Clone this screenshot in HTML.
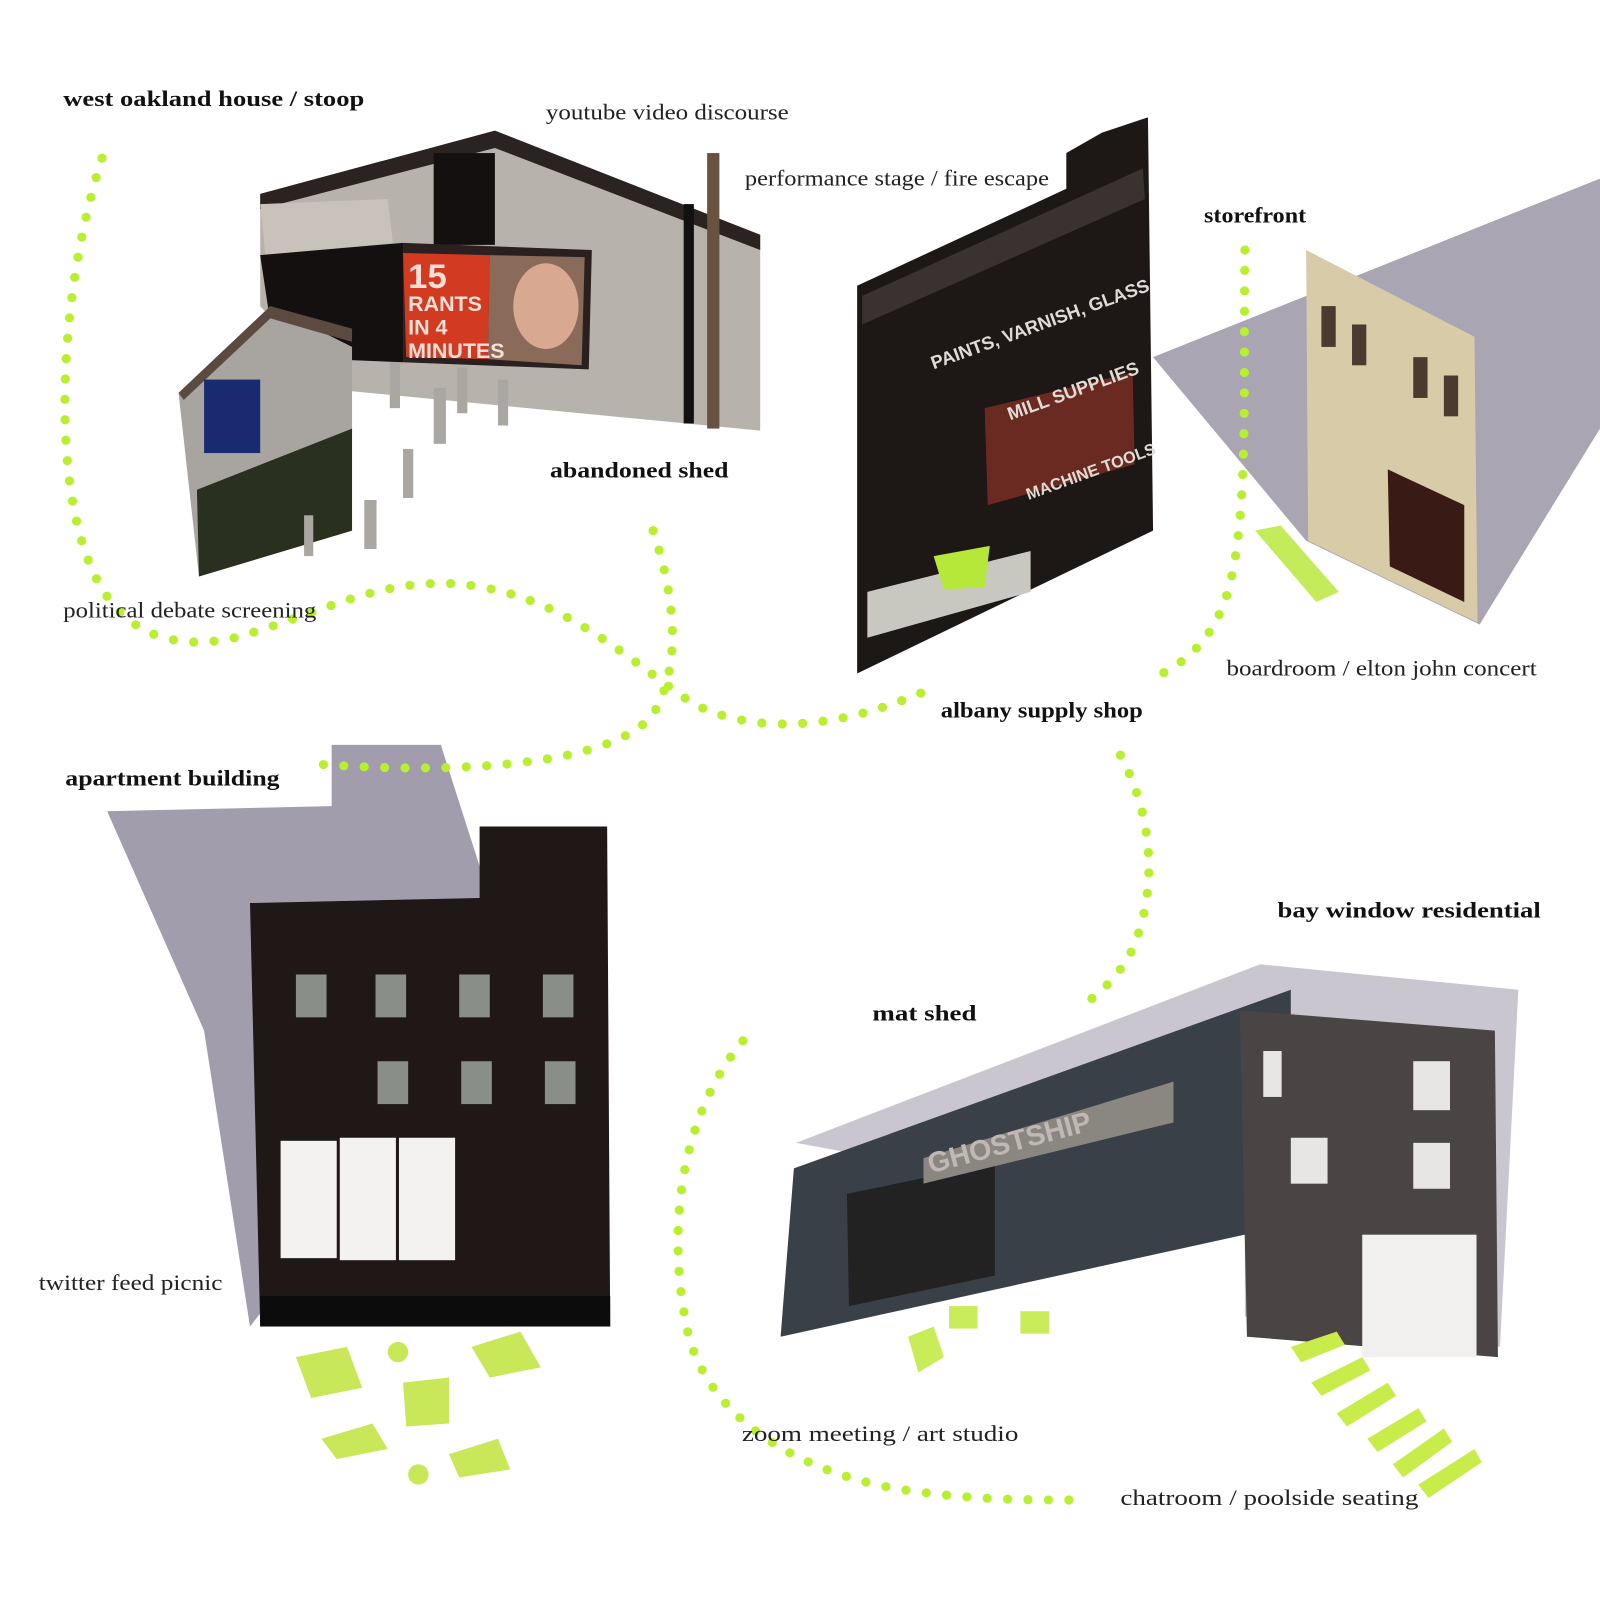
<!DOCTYPE html>
<html><head><meta charset="utf-8"><style>
html,body{margin:0;padding:0;background:#fff;}
svg{display:block}
text{font-family:"Liberation Serif",serif;fill:#222;font-size:22px}
.b{font-weight:bold;fill:#111}
</style></head><body>
<svg width="1600" height="1600" viewBox="0 0 1600 1600" xmlns="http://www.w3.org/2000/svg">
<g transform="scale(1.0204)">
<!-- shadows -->
<polygon points="1130,350 1568,175 1568,420 1450,612 1280,530" fill="#8c8798" opacity="0.75"/>
<polygon points="105,795 325,790 325,730 432,730 480,880 480,1000 245,1300 200,1010" fill="#8a8598" opacity="0.8"/>
<polygon points="780,1120 1235,945 1488,970 1470,1320 1220,1290 1220,1200" fill="#9c98a8" opacity="0.55"/>

<!-- abandoned shed -->
<polygon points="255,190 485,128 745,230 745,422 330,382 255,300" fill="#b8b2ac"/>
<polygon points="255,190 485,128 745,230 745,245 485,145 255,205" fill="#2a2320"/>
<rect x="425" y="150" width="60" height="90" fill="#151010"/>
<polygon points="255,200 380,195 385,238 260,250" fill="#c8c2bb"/>
<polygon points="255,250 395,238 395,355 270,350" fill="#141010"/>
<rect x="670" y="200" width="10" height="215" fill="#111"/>
<rect x="693" y="150" width="12" height="270" fill="#6a5240"/>
<polygon points="395,238 580,245 577,362 395,355" fill="#2a2020"/>
<polygon points="395,248 480,250 478,352 398,350" fill="#d23a22"/>
<polygon points="480,250 573,252 570,358 478,352" fill="#8a6a58"/>
<ellipse cx="535" cy="300" rx="32" ry="42" fill="#d8a890"/>
<text x="400" y="282" style="fill:#f4e0d8;font-family:'Liberation Sans',sans-serif;font-weight:bold;font-size:34px">15</text>
<text x="400" y="305" style="fill:#f4e0d8;font-family:'Liberation Sans',sans-serif;font-weight:bold;font-size:21px">RANTS</text>
<text x="400" y="328" style="fill:#f4e0d8;font-family:'Liberation Sans',sans-serif;font-weight:bold;font-size:21px">IN 4</text>
<text x="400" y="351" style="fill:#f4e0d8;font-family:'Liberation Sans',sans-serif;font-weight:bold;font-size:21px">MINUTES</text>
<!-- house -->
<polygon points="175,385 265,300 345,340 345,520 195,565" fill="#a8a4a0"/>
<polygon points="175,385 265,300 345,322 345,335 265,312 180,392" fill="#5a4a40"/>
<rect x="200" y="372" width="55" height="72" fill="#1a2a70"/>
<polygon points="193,480 345,420 345,520 195,565" fill="#2a3020"/>
<g fill="#aaa6a2"><rect x="382" y="355" width="10" height="45"/><rect x="448" y="360" width="10" height="45"/><rect x="488" y="372" width="10" height="45"/><rect x="425" y="380" width="12" height="55"/><rect x="395" y="440" width="10" height="48"/><rect x="357" y="490" width="12" height="48"/><rect x="298" y="505" width="9" height="40"/></g>

<!-- albany supply shop -->
<polygon points="840,280 1045,185 1045,150 1080,130 1125,115 1130,520 840,660" fill="#1d1716"/>
<polygon points="845,290 1120,165 1122,195 845,318" fill="#3a3230"/>
<polygon points="965,400 1110,365 1112,455 968,495" fill="#6a2a22"/>
<polygon points="850,580 1010,540 1010,580 850,625" fill="#c8c8c0"/>
<polygon points="915,545 970,535 965,575 925,578" fill="#b6e83a"/>
<text x="915" y="362" transform="rotate(-20 915 362)" style="fill:#e0dcd2;font-size:18px;font-family:'Liberation Sans',sans-serif;font-weight:bold">PAINTS, VARNISH, GLASS</text>
<text x="990" y="412" transform="rotate(-20 990 412)" style="fill:#e0dcd2;font-size:18px;font-family:'Liberation Sans',sans-serif;font-weight:bold">MILL SUPPLIES</text>
<text x="1008" y="490" transform="rotate(-20 1008 490)" style="fill:#e0dcd2;font-size:16px;font-family:'Liberation Sans',sans-serif;font-weight:bold">MACHINE TOOLS</text>

<!-- storefront -->
<polygon points="1280,245 1445,330 1448,610 1282,530" fill="#d8cca8"/>
<polygon points="1360,460 1435,495 1435,590 1362,555" fill="#3a1a14"/>
<g fill="#4a3a30"><rect x="1295" y="300" width="14" height="40"/><rect x="1325" y="318" width="14" height="40"/><rect x="1385" y="350" width="14" height="40"/><rect x="1415" y="368" width="14" height="40"/></g>
<polygon points="1230,520 1255,515 1312,580 1290,590" fill="#c4ec5a"/>

<!-- apartment building -->
<polygon points="245,885 470,880 470,810 595,810 598,1300 255,1300" fill="#201816"/>
<g fill="#8a8e88"><rect x="290" y="955" width="30" height="42"/><rect x="368" y="955" width="30" height="42"/><rect x="450" y="955" width="30" height="42"/><rect x="532" y="955" width="30" height="42"/><rect x="370" y="1040" width="30" height="42"/><rect x="452" y="1040" width="30" height="42"/><rect x="534" y="1040" width="30" height="42"/></g>
<g fill="#f4f2f0"><rect x="275" y="1118" width="55" height="115"/><rect x="333" y="1115" width="55" height="120"/><rect x="391" y="1115" width="55" height="120"/></g>
<rect x="255" y="1270" width="343" height="30" fill="#0c0c0c"/>
<g fill="#c8e85a"><polygon points="290,1330 340,1320 355,1360 305,1370"/><polygon points="395,1355 440,1350 440,1395 398,1398"/><polygon points="462,1320 510,1305 530,1340 480,1350"/><polygon points="315,1410 365,1395 380,1420 330,1430"/><polygon points="440,1425 488,1410 500,1440 450,1448"/><circle cx="390" cy="1325" r="10"/><circle cx="410" cy="1445" r="10"/></g>

<!-- mat shed -->
<polygon points="778,1145 1265,970 1265,1200 765,1310" fill="#3a4048"/>
<polygon points="830,1170 975,1140 975,1250 832,1280" fill="#222"/>
<polygon points="905,1135 1150,1060 1150,1100 905,1160" fill="#8a8680"/>
<text x="912" y="1150" transform="rotate(-15 912 1150)" style="fill:#c0b8b4;font-family:'Liberation Sans',sans-serif;font-weight:bold;font-size:28px">GHOSTSHIP</text>
<polygon points="1215,990 1465,1010 1468,1330 1222,1310" fill="#4a4444"/>
<g fill="#e8e6e4"><rect x="1238" y="1030" width="18" height="45"/><rect x="1385" y="1040" width="36" height="48"/><rect x="1265" y="1115" width="36" height="45"/><rect x="1385" y="1120" width="36" height="45"/></g>
<rect x="1335" y="1210" width="112" height="120" fill="#f2f0ee"/>
<g fill="#c8ec5a"><polygon points="890,1310 915,1300 925,1330 900,1345"/><rect x="930" y="1280" width="28" height="22"/><rect x="1000" y="1285" width="28" height="22"/></g>
<g fill="#c8ec4a"><polygon points="1265,1320 1310,1305 1318,1318 1275,1335"/><polygon points="1285,1355 1335,1330 1343,1343 1295,1368"/><polygon points="1310,1385 1360,1355 1368,1368 1320,1398"/><polygon points="1340,1410 1390,1380 1398,1393 1350,1423"/><polygon points="1365,1435 1415,1400 1423,1413 1375,1448"/><polygon points="1390,1455 1445,1420 1452,1433 1400,1468"/></g>

<!-- green dotted paths -->
<g fill="none" stroke="#b8f030" stroke-width="9" stroke-linecap="round" stroke-dasharray="0 20">
<path d="M100,155 C60,280 50,450 85,545 C110,615 160,640 230,625 C320,600 380,560 470,575 C560,590 620,650 680,690 C740,720 820,715 905,678"/>
<path d="M640,520 C660,580 670,650 640,700 C600,750 450,760 300,748"/>
<path d="M1220,245 C1218,380 1225,520 1200,590 C1185,630 1160,650 1135,662"/>
<path d="M1098,740 C1130,800 1135,870 1110,930 C1095,960 1075,975 1058,988"/>
<path d="M728,1020 C670,1090 650,1200 675,1310 C700,1400 800,1450 900,1462 C960,1470 1010,1470 1060,1470"/>
</g>

<!-- labels -->
<g lengthAdjust="spacingAndGlyphs">
<text class="b" x="62" y="104" textLength="295" lengthAdjust="spacingAndGlyphs">west oakland house / stoop</text>
<text x="535" y="117" textLength="238" lengthAdjust="spacingAndGlyphs">youtube video discourse</text>
<text x="730" y="182" textLength="298" lengthAdjust="spacingAndGlyphs">performance stage / fire escape</text>
<text class="b" x="1180" y="218" textLength="100" lengthAdjust="spacingAndGlyphs">storefront</text>
<text class="b" x="539" y="468" textLength="175" lengthAdjust="spacingAndGlyphs">abandoned shed</text>
<text x="62" y="605" textLength="248" lengthAdjust="spacingAndGlyphs">political debate screening</text>
<text x="1202" y="662" textLength="304" lengthAdjust="spacingAndGlyphs">boardroom / elton john concert</text>
<text class="b" x="922" y="703" textLength="198" lengthAdjust="spacingAndGlyphs">albany supply shop</text>
<text class="b" x="64" y="770" textLength="210" lengthAdjust="spacingAndGlyphs">apartment building</text>
<text class="b" x="1252" y="899" textLength="258" lengthAdjust="spacingAndGlyphs">bay window residential</text>
<text class="b" x="855" y="1000" textLength="102" lengthAdjust="spacingAndGlyphs">mat shed</text>
<text x="38" y="1264" textLength="180" lengthAdjust="spacingAndGlyphs">twitter feed picnic</text>
<text x="727" y="1412" textLength="271" lengthAdjust="spacingAndGlyphs">zoom meeting / art studio</text>
<text x="1098" y="1475" textLength="292" lengthAdjust="spacingAndGlyphs">chatroom / poolside seating</text>
</g>
</g>
</svg>
</body></html>
